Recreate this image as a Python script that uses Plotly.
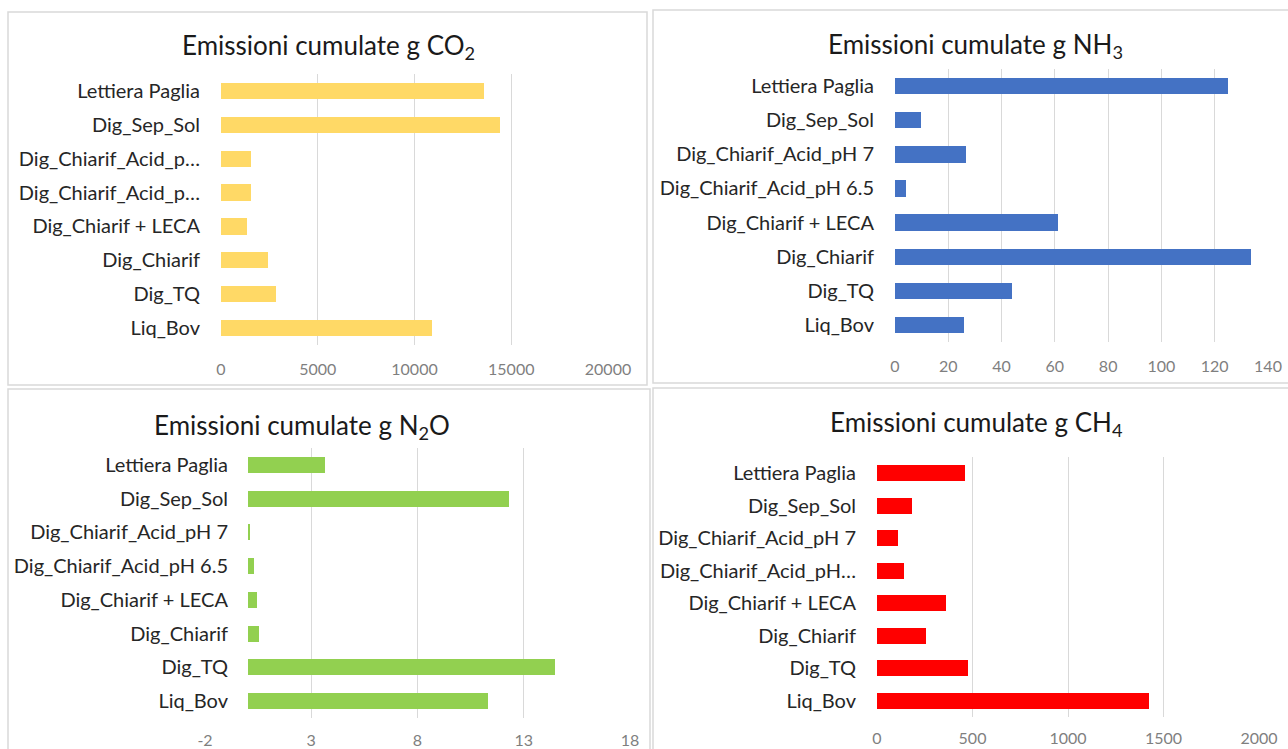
import plotly.graph_objects as go

W, H = 1288, 749

# Categories, top to bottom
categories = [
    "Lettiera Paglia",
    "Dig_Sep_Sol",
    "Dig_Chiarif_Acid_pH 7",
    "Dig_Chiarif_Acid_pH 6.5",
    "Dig_Chiarif + LECA",
    "Dig_Chiarif",
    "Dig_TQ",
    "Liq_Bov",
]

# Cumulative emissions (g)
co2 = [13600, 14400, 1570, 1570, 1320, 2450, 2820, 10900]
nh3 = [125.0, 9.6, 26.7, 4.2, 61.1, 133.7, 44.0, 25.9]
n2o = [3.66, 12.3, 0.11, 0.30, 0.46, 0.56, 14.46, 11.3]
ch4 = [463, 184, 111, 141, 363, 258, 474, 1424]

# Value-axis ticks
ticks_co2 = [0, 5000, 10000, 15000, 20000]
ticks_nh3 = [0, 20, 40, 60, 80, 100, 120, 140]
ticks_n2o = [-2, 3, 8, 13, 18]
ticks_ch4 = [0, 500, 1000, 1500, 2000]

# Category labels as shown in each panel (long names truncated where space is short)
labels_co2 = [
    "Lettiera Paglia", "Dig_Sep_Sol", "Dig_Chiarif_Acid_p…", "Dig_Chiarif_Acid_p…",
    "Dig_Chiarif + LECA", "Dig_Chiarif", "Dig_TQ", "Liq_Bov",
]
labels_nh3 = list(categories)
labels_n2o = list(categories)
labels_ch4 = [
    "Lettiera Paglia", "Dig_Sep_Sol", "Dig_Chiarif_Acid_pH 7", "Dig_Chiarif_Acid_pH…",
    "Dig_Chiarif + LECA", "Dig_Chiarif", "Dig_TQ", "Liq_Bov",
]

titles = [
    "Emissioni cumulate g CO<sub>2</sub>",
    "Emissioni cumulate g NH<sub>3</sub>",
    "Emissioni cumulate g N<sub>2</sub>O",
    "Emissioni cumulate g CH<sub>4</sub>",
]
colors = ["#FFD966", "#4472C4", "#92D050", "#FF0000"]

FONT = "Lato"
GRID = "#D9D9D9"


def px_x(x):
    return x / W


def px_y(y):
    return 1 - y / H


# Panel geometry in pixels: plot area (left, right, top, bottom), title centre, frame box
panels = [
    dict(values=co2, labels=labels_co2, ticks=ticks_co2, area=(221, 608, 74, 345), rng=(0, 20000),
         title_xy=(328, 47), box=(8, 12, 647, 385), ypos=None, xstand=13),
    dict(values=nh3, labels=labels_nh3, ticks=ticks_nh3, area=(895, 1268, 69, 342), rng=(0, 140),
         title_xy=(975, 46), box=(653, 10, 1295, 383), ypos=None, xstand=13),
    dict(values=n2o, labels=labels_n2o, ticks=ticks_n2o, area=(205, 630, 448, 718), rng=(-2, 18),
         title_xy=(302, 427), box=(8, 389, 650, 760), ypos=248, xstand=11),
    dict(values=ch4, labels=labels_ch4, ticks=ticks_ch4, area=(877, 1259, 457, 717), rng=(0, 2000),
         title_xy=(976, 423), box=(653, 388, 1295, 760), ypos=None, xstand=10),
]

fig = go.Figure()
layout = dict(
    template="none",
    width=W, height=H,
    autosize=False,
    margin=dict(l=0, r=0, t=0, b=0, pad=0),
    paper_bgcolor="white", plot_bgcolor="white",
    showlegend=False,
    bargap=0,
    annotations=[], shapes=[],
)

for i, p in enumerate(panels, start=1):
    sfx = "" if i == 1 else str(i)
    fig.add_trace(go.Bar(
        x=p["values"], y=categories, orientation="h",
        marker=dict(color=colors[i - 1], line=dict(width=0)),
        width=0.48,
        xaxis="x" + sfx, yaxis="y" + sfx,
        hoverinfo="x+y",
    ))
    l, r, t, b = p["area"]
    layout["xaxis" + sfx] = dict(
        domain=[px_x(l), px_x(r)],
        anchor="y" + sfx,
        range=list(p["rng"]),
        tickmode="array", tickvals=p["ticks"], ticktext=[str(v) for v in p["ticks"]],
        showgrid=True, gridcolor=GRID, gridwidth=1,
        zeroline=False, showline=False, ticks="",
        tickfont=dict(family=FONT, size=16, color="#7F7F7F"),
        ticklabelstandoff=p["xstand"],
        automargin=False,
        fixedrange=True,
    )
    yax = dict(
        domain=[px_y(b), px_y(t)],
        type="category",
        categoryorder="array", categoryarray=categories,
        range=[7.5, -0.5],
        tickmode="array", tickvals=categories, ticktext=p["labels"],
        showgrid=False, zeroline=False, showline=False, ticks="",
        tickfont=dict(family=FONT, size=20, color="#262626"),
        ticklabelstandoff=20,
        automargin=False,
        fixedrange=True,
    )
    if p["ypos"] is not None:
        yax.update(anchor="free", position=px_x(p["ypos"]))
    else:
        yax.update(anchor="x" + sfx)
    layout["yaxis" + sfx] = yax

    tx, ty = p["title_xy"]
    layout["annotations"].append(dict(
        text=titles[i - 1], xref="paper", yref="paper",
        x=px_x(tx), y=px_y(ty), xanchor="center", yanchor="middle",
        showarrow=False,
        font=dict(family=FONT, size=26, color="#1A1A1A"),
    ))
    x0, y0, x1, y1 = p["box"]
    layout["shapes"].append(dict(
        type="rect", xref="paper", yref="paper",
        x0=px_x(x0), x1=px_x(x1), y0=px_y(y1), y1=px_y(y0),
        line=dict(color="#D9D9D9", width=1.5), fillcolor="rgba(0,0,0,0)",
        layer="below",
    ))

fig.update_layout(**layout)
fig.write_html("out.html")
